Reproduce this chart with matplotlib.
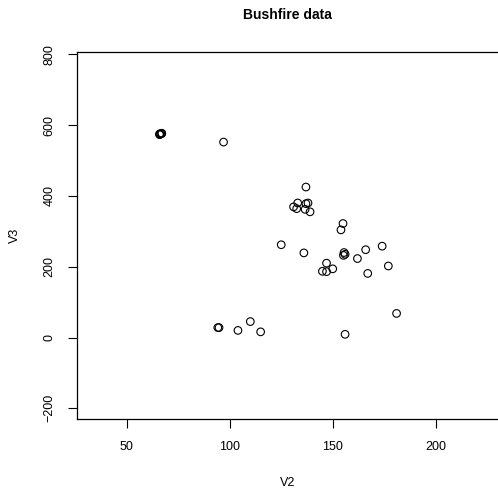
import matplotlib
matplotlib.use("Agg")
import matplotlib.pyplot as plt

plt.rcParams['font.family'] = ['Liberation Sans', 'DejaVu Sans']

v2 = [66, 66, 67, 67, 66,
      97, 137, 133, 131, 132.5, 137, 138, 136.6, 139,
      155, 154, 125, 136, 155.5, 156, 155.2, 166, 174, 162,
      177, 147, 150, 145, 147, 167,
      94.2, 94.8, 104, 110, 115, 156, 181, 66.5]
v3 = [573, 575, 577, 576, 574,
      552, 425, 380, 369, 364, 378, 380, 362, 355,
      322, 304, 262, 239, 240, 235, 232, 248, 258, 223,
      202, 210, 194, 187, 186, 181,
      28, 28, 20, 45, 16, 9, 68, 576]

W, H = 498, 491
fig = plt.figure(figsize=(W / 100, H / 100), dpi=100)
left, right, top, bottom = 77.3, 499, 51.7, 419
ax = fig.add_axes([left / W, 1 - bottom / H, (right - left) / W, (bottom - top) / H])

ax.scatter(v2, v3, s=30, facecolors='none', edgecolors='black', linewidths=0.8)

ax.set_xlim(26, 50 + (right - 126.7) / 2.06)
ax.set_ylim(-230.2, 807.3)
ax.set_xticks([50, 100, 150, 200])
ax.set_yticks([-200, 0, 200, 400, 600, 800])
ax.set_yticklabels(['\u2212200', '0', '200', '400', '600', '800'],
                   rotation=90, va='center')
ax.tick_params(direction='out', length=6.8, width=0.8, labelsize=9, pad=9)
for s in ax.spines.values():
    s.set_linewidth(0.9)

fig.text(287.7 / W, 1 - 15 / H, 'Bushfire data', ha='center', va='center',
         fontsize=10, fontweight='bold')
fig.text(287.7 / W, 1 - 483 / H, 'V2', ha='center', va='center', fontsize=9)
fig.text(15 / W, 1 - 235 / H, 'V3', ha='center', va='center', fontsize=9,
         rotation=90)

fig.savefig('out.png', dpi=100)
